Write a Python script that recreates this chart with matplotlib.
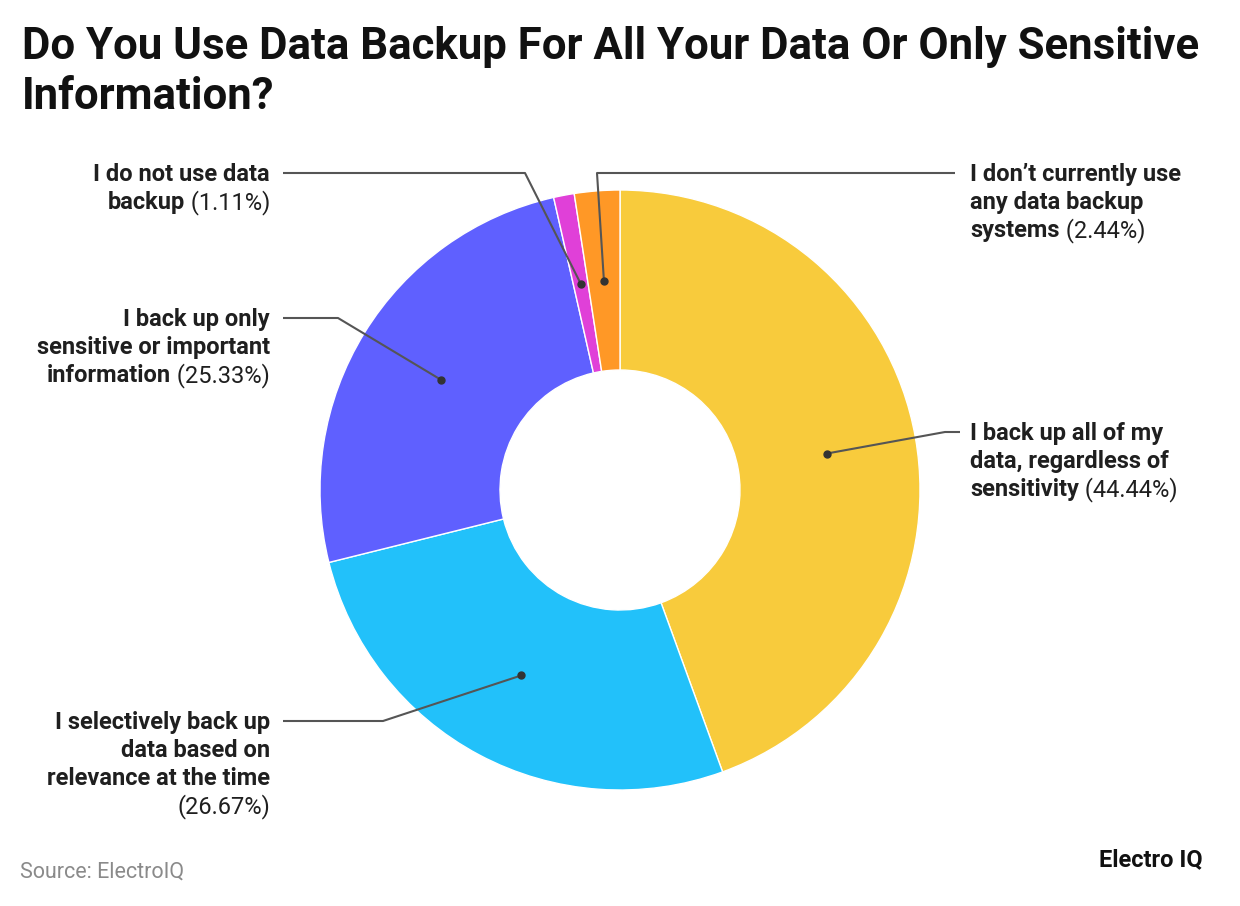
import numpy as np
import matplotlib.pyplot as plt

# данные
labels = [
    ["I back up all of my", "data, regardless of", "sensitivity"],
    ["I selectively back up", "data based on", "relevance at the time", ""],
    ["I back up only", "sensitive or important", "information"],
    ["I do not use data", "backup"],
    ["I don\u2019t currently use", "any data backup", "systems"],
]
values = [44.44, 26.67, 25.33, 1.11, 2.44]
colors = ["#F8CB3C", "#22C1FA", "#5F60FF", "#E040D8", "#FF9826"]

W, H = 1240, 906
plt.rcParams['font.family'] = ['Roboto', 'DejaVu Sans']

fig = plt.figure(figsize=(W / 100, H / 100), dpi=100)
ax = fig.add_axes([0, 0, 1, 1])
ax.axis('off')

cx, cy, R, r_in = 620, H - 490, 300, 120
ax.pie(values, colors=colors, startangle=90, counterclock=False,
       center=(cx, cy), radius=R,
       wedgeprops=dict(width=R - r_in, edgecolor='white', linewidth=1))
ax.set_xlim(0, W)
ax.set_ylim(0, H)
ax.set_aspect('auto')

renderer = fig.canvas.get_renderer()
txt_color = '#1f1f1f'
fs = 17


def text_width(t):
    bb = t.get_window_extent(renderer=renderer)
    return bb.width


def mixed_line(x, y, bold, regular, align):
    if align == 'left':
        tb = ax.text(x, y, bold, fontsize=fs, fontweight='bold', color=txt_color,
                     ha='left', va='baseline')
        w = text_width(tb) if bold else 0
        if regular:
            ax.text(x + w, y, regular, fontsize=fs, color=txt_color, ha='left', va='baseline')
    else:
        w = 0
        if regular:
            tr = ax.text(x, y, regular, fontsize=fs, color=txt_color, ha='right', va='baseline')
            w = text_width(tr)
        if bold:
            ax.text(x - w, y, bold, fontsize=fs, fontweight='bold', color=txt_color,
                    ha='right', va='baseline')


# позиції підписів
label_pos = [
    dict(elbow=(945, 432), end=(960, 432), tx=970, ty=432, align='left'),
    dict(elbow=(383, 721), end=(283, 721), tx=270, ty=721, align='right'),
    dict(elbow=(338, 318), end=(283, 318), tx=270, ty=318, align='right'),
    dict(elbow=(525, 173), end=(283, 173), tx=270, ty=173, align='right'),
    dict(elbow=(597, 173), end=(955, 173), tx=970, ty=173, align='left'),
]
line_h = 28

cum = 0
total = sum(values)
for lab, v, lp in zip(labels, values, label_pos):
    mid = cum + v / 2
    cum += v
    ang = np.deg2rad(90 - mid / total * 360)
    rr = (R + r_in) / 2
    dx, dy = cx + rr * np.cos(ang), cy + rr * np.sin(ang)
    ex, ey = lp['elbow']
    fx, fy = lp['end']
    ax.plot([dx, ex, fx], [dy, H - ey, H - fy], color='#555555', lw=1.5,
            solid_capstyle='butt', zorder=5)
    ax.plot(dx, dy, 'o', color='#333333', ms=5, zorder=6)

    pct = f"({v:.2f}%)"
    n = len(lab)
    for i, line in enumerate(lab):
        y = H - (lp['ty'] + i * line_h) - 8
        if i == n - 1:
            if line:
                mixed_line(lp['tx'], y, line, " " + pct, lp['align'])
            else:
                mixed_line(lp['tx'], y, "", pct, lp['align'])
        else:
            mixed_line(lp['tx'], y, line, "", lp['align'])

# заголовок
ax.text(22, H - 47, "Do You Use Data Backup For All Your Data Or Only Sensitive",
        fontsize=31.5, fontweight='bold', color='#111111', ha='left', va='center')
ax.text(22, H - 97, "Information?",
        fontsize=31.5, fontweight='bold', color='#111111', ha='left', va='center')

ax.text(20, H - 872, "Source: ElectroIQ", fontsize=15.5, color='#8a8a8a',
        ha='left', va='center')
ax.text(1203, H - 860, "Electro IQ", fontsize=17, fontweight='bold',
        color='#111111', ha='right', va='center')

fig.savefig('out.png', dpi=100)
